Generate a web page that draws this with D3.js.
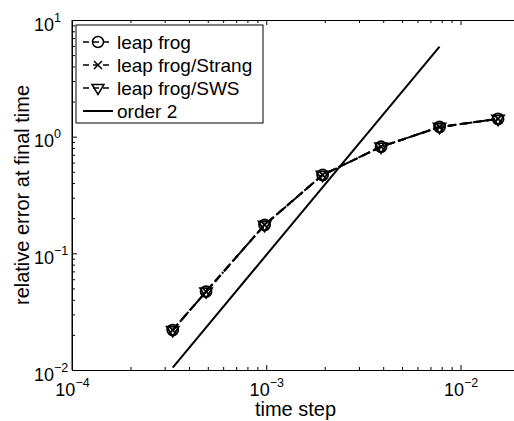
<!DOCTYPE html>
<html>
<head>
<meta charset="utf-8">
<script src="https://cdn.jsdelivr.net/npm/d3@7"></script>
<style>
  body { margin: 0; background: #fff; }
  svg { display: block; font-family: "Liberation Sans", Arial, sans-serif; }
</style>
</head>
<body>
<svg id="chart"></svg>
<script>
// values
const timeSteps = [3.3e-4, 4.9e-4, 9.8e-4, 1.95e-3, 3.9e-3, 7.8e-3, 1.56e-2];
const errLeapFrog = [0.022, 0.047, 0.175, 0.47, 0.82, 1.21, 1.42];
const errStrang = [0.022, 0.047, 0.175, 0.47, 0.82, 1.21, 1.42];
const errSWS = [0.022, 0.047, 0.175, 0.47, 0.82, 1.21, 1.42];
const order2Steps = [3.3e-4, 7.8e-3];
const order2Err = [0.0105, 5.9];
const seriesNames = ["leap frog", "leap frog/Strang", "leap frog/SWS", "order 2"];
const xTickExps = [-4, -3, -2];
const yTickExps = [-2, -1, 0, 1];
const xLimits = [1e-4, 2e-2];
const yLimits = [1e-2, 1e1];

const W = 514, H = 421;
const margin = {top: 20, right: -5, bottom: 51, left: 72};
const innerW = W - margin.left - margin.right;
const innerH = H - margin.top - margin.bottom;

const svg = d3.select("#chart").attr("width", W).attr("height", H);
const g = svg.append("g").attr("transform", `translate(${margin.left},${margin.top})`);

const x = d3.scaleLog().domain(xLimits).range([0, innerW]);
const y = d3.scaleLog().domain(yLimits).range([innerH, 0]);

const xMajor = xTickExps.map(e => Math.pow(10, e));
const yMajor = yTickExps.map(e => Math.pow(10, e));
const isPow10 = v => Math.abs(Math.log10(v) - Math.round(Math.log10(v))) < 1e-9;
const xMinor = x.ticks().filter(v => !isPow10(v));
const yMinor = y.ticks().filter(v => !isPow10(v));

function styleAxis(sel) {
  sel.selectAll("path.domain").attr("stroke", "#000").attr("stroke-width", 1);
  sel.selectAll(".tick line").attr("stroke", "#000").attr("stroke-width", 1);
  sel.selectAll(".tick text").remove();
}

// minor ticks (inward)
g.append("g").attr("transform", `translate(0,${innerH})`)
  .call(d3.axisBottom(x).tickValues(xMinor).tickSizeInner(-3).tickSizeOuter(0).tickFormat(""))
  .call(styleAxis);
g.append("g")
  .call(d3.axisTop(x).tickValues(xMinor).tickSizeInner(-3).tickSizeOuter(0).tickFormat(""))
  .call(styleAxis);
g.append("g")
  .call(d3.axisLeft(y).tickValues(yMinor).tickSizeInner(-3).tickSizeOuter(0).tickFormat(""))
  .call(styleAxis);

// major ticks
const xAxisG = g.append("g").attr("transform", `translate(0,${innerH})`)
  .call(d3.axisBottom(x).tickValues(xMajor).tickSizeInner(-5).tickSizeOuter(0).tickFormat(""))
  .call(styleAxis);
g.append("g")
  .call(d3.axisTop(x).tickValues(xMajor).tickSizeInner(-5).tickSizeOuter(0).tickFormat(""))
  .call(styleAxis);
const yAxisG = g.append("g")
  .call(d3.axisLeft(y).tickValues(yMajor).tickSizeInner(-5).tickSizeOuter(0).tickFormat(""))
  .call(styleAxis);

function powLabel(sel, exp) {
  sel.append("tspan").attr("font-size", 18).text("10");
  sel.append("tspan").attr("font-size", 12.5).attr("dy", -9)
    .text(String(exp).replace("-", "\u2212"));
}

xAxisG.selectAll(".tick").each(function(d) {
  const t = d3.select(this).append("text")
    .attr("y", 26).attr("text-anchor", "middle").attr("fill", "#000");
  powLabel(t, Math.round(Math.log10(d)));
});
yAxisG.selectAll(".tick").each(function(d) {
  const t = d3.select(this).append("text")
    .attr("x", -38).attr("y", 10).attr("text-anchor", "start").attr("fill", "#000");
  powLabel(t, Math.round(Math.log10(d)));
});

// axis labels
svg.append("text")
  .attr("x", margin.left + innerW / 2).attr("y", 416)
  .attr("text-anchor", "middle").attr("font-size", 20).text("time step");
svg.append("text")
  .attr("transform", `translate(29,${margin.top + innerH / 2}) rotate(-90)`)
  .attr("text-anchor", "middle").attr("font-size", 20).text("relative error at final time");

// series
const line = d3.line().x(d => x(d[0])).y(d => y(d[1]));
const series = [
  {name: seriesNames[0], values: errLeapFrog, steps: timeSteps, dash: "8,5", marker: "circle"},
  {name: seriesNames[1], values: errStrang, steps: timeSteps, dash: "8,5", marker: "cross"},
  {name: seriesNames[2], values: errSWS, steps: timeSteps, dash: "8,3,2,3", marker: "tri"},
  {name: seriesNames[3], values: order2Err, steps: order2Steps, dash: null, marker: null}
];

function drawMarker(sel, type) {
  if (type === "circle") {
    sel.append("circle").attr("r", 5.5);
  } else if (type === "cross") {
    sel.append("path").attr("d", "M-4,-4L4,4M-4,4L4,-4");
  } else if (type === "tri") {
    sel.append("path").attr("d", "M-6,-3.5L6,-3.5L0,6.5Z");
  }
  sel.selectAll("*").attr("fill", "none").attr("stroke", "#000").attr("stroke-width", 1.8);
}

series.forEach(s => {
  const pts = s.steps.map((t, i) => [t, s.values[i]]);
  g.append("path").datum(pts)
    .attr("d", line).attr("fill", "none").attr("stroke", "#000")
    .attr("stroke-width", 2).attr("stroke-dasharray", s.dash);
});
series.forEach(s => {
  if (!s.marker) return;
  s.steps.forEach((t, i) => {
    const m = g.append("g").attr("transform", `translate(${x(t)},${y(s.values[i])})`);
    drawMarker(m, s.marker);
  });
});

// legend
const legend = svg.append("g").attr("transform", "translate(76,25)");
legend.append("rect").attr("width", 187).attr("height", 98)
  .attr("fill", "#fff").attr("stroke", "#000").attr("stroke-width", 1);
series.forEach((s, i) => {
  const row = legend.append("g").attr("transform", `translate(0,${17 + i * 23})`);
  row.append("line").attr("x1", 7).attr("x2", 37)
    .attr("stroke", "#000").attr("stroke-width", s.marker ? 1.5 : 2)
    .attr("stroke-dasharray", s.dash ? "6,4" : null);
  if (s.marker) {
    const m = row.append("g").attr("transform", "translate(22,0)");
    drawMarker(m, s.marker);
    m.selectAll("*").attr("stroke-width", 1.5);
  }
  row.append("text").attr("x", 41).attr("dy", "0.35em")
    .attr("font-size", 19).text(s.name);
});

// left frame line
g.append("line").attr("x1", 0).attr("x2", 0).attr("y1", 0).attr("y2", innerH)
  .attr("stroke", "#000");
</script>
</body>
</html>
